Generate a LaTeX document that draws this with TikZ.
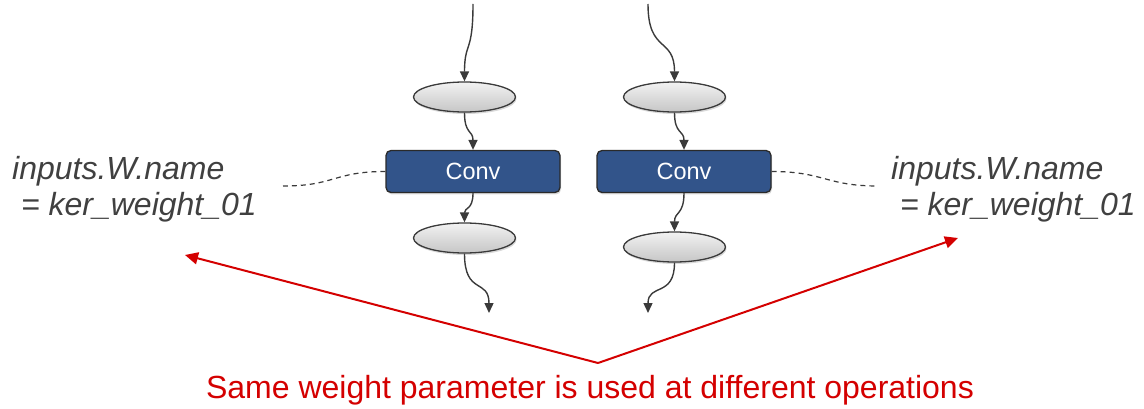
\documentclass[tikz,border=0pt]{standalone}
\usepackage{fontspec}
\setmainfont{Liberation Sans}
\usetikzlibrary{shapes.geometric,arrows.meta,shadows}
\definecolor{txtgray}{HTML}{404040}
\definecolor{linegray}{HTML}{3A3A3A}
\definecolor{convblue}{HTML}{32548A}
\definecolor{convborder}{HTML}{2A2A2A}
\definecolor{redline}{HTML}{D40000}
\tikzset{
  ell/.style={ellipse, draw=linegray, line width=1.3pt, minimum width=102pt, minimum height=30pt, inner sep=0pt,
    top color=gray!10, bottom color=gray!45,
    drop shadow={opacity=0.3, shadow xshift=1pt, shadow yshift=-2pt}},
  convbox/.style={rectangle, rounded corners=5pt, draw=convborder, line width=1.3pt, fill=convblue,
    minimum width=174pt, minimum height=42pt, inner sep=0pt, text=white,
    font=\fontsize{23.5}{26}\selectfont,
    drop shadow={opacity=0.3, shadow xshift=1pt, shadow yshift=-2pt}},
  flow/.style={draw=linegray, line width=1.4pt, -{Triangle[length=10pt,width=9pt]}},
  link/.style={draw=linegray, line width=1.2pt, dash pattern=on 5pt off 4pt},
  redarrow/.style={draw=redline, line width=2pt, -{Triangle[length=13pt,width=12pt]}},
  note/.style={align=left, inner sep=0pt, anchor=north west, text=txtgray,
    font=\fontsize{32}{32}\selectfont\itshape},
}
\begin{document}
\begin{tikzpicture}[x=1pt,y=-1pt]
\useasboundingbox (0,0) rectangle (1144,409);
% nodes
\node[ell] (e1) at (464.5,97) {};
\node[convbox] (c1) at (473,171.5) {Conv};
\node[ell] (e2) at (464.5,238) {};
\node[ell] (e3) at (674.5,97) {};
\node[convbox] (c2) at (684,171.5) {Conv};
\node[ell] (e4) at (674.5,247) {};
\coordinate (t1) at (473,4);
\coordinate (o1) at (489,313);
\coordinate (t2) at (648,4);
\coordinate (o2) at (648,313);
% flow connectors
\draw[flow] (t1) .. controls +(0,50) and +(0,-40) .. (e1.north);
\draw[flow] (e1.south) .. controls +(0,22) and +(0,-20) .. (c1.north);
\draw[flow] (c1.south) .. controls +(0,17) and +(0,-15) .. (e2.north);
\draw[flow] (e2.south) .. controls +(0,42) and +(0,-35) .. (o1);
\draw[flow] (t2) .. controls +(0,50) and +(0,-45) .. (e3.north);
\draw[flow] (e3.south) .. controls +(0,22) and +(0,-20) .. (c2.north);
\draw[flow] (c2.south) .. controls +(0,22) and +(0,-20) .. (e4.north);
\draw[flow] (e4.south) .. controls +(0,35) and +(0,-30) .. (o2);
% notes
\node[note] (nl) at (12,156) {inputs.W.name\\[4pt]\ = ker\_weight\_01};
\node[note] (nr) at (891,156) {inputs.W.name\\[4pt]\ = ker\_weight\_01};
\coordinate (dl) at (283,186);
\coordinate (dr) at (878,186);
\draw[link] (c1.west) .. controls +(-52,0) and +(52,0) .. (dl);
\draw[link] (c2.east) .. controls +(52,0) and +(-52,0) .. (dr);
% red annotation
\coordinate (apex) at (598,363);
\coordinate (lt) at (185,255);
\coordinate (rt) at (958,238);
\draw[redarrow] (apex) -- (lt);
\draw[redarrow] (apex) -- (rt);
\node[text=redline, anchor=base, inner sep=0pt, font=\fontsize{32}{34}\selectfont] (cap) at (590,398)
  {Same weight parameter is used at different operations};
\end{tikzpicture}
\end{document}
